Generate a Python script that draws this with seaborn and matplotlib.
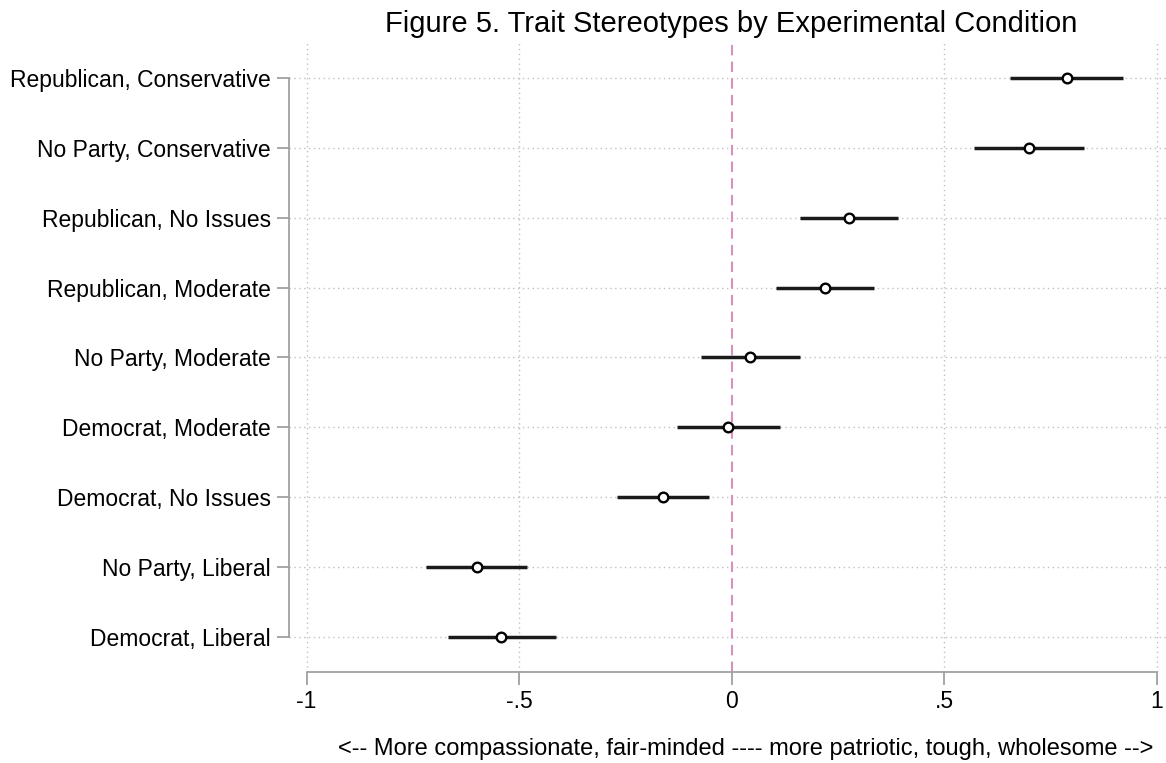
import numpy as np
import pandas as pd
import seaborn as sns
import matplotlib.pyplot as plt

# Kosullar (yukaridan asagi)
conditions = ['Republican, Conservative', 'No Party, Conservative', 'Republican, No Issues',
              'Republican, Moderate', 'No Party, Moderate', 'Democrat, Moderate',
              'Democrat, No Issues', 'No Party, Liberal', 'Democrat, Liberal']
estimate = [0.788, 0.699, 0.276, 0.220, 0.044, -0.009, -0.162, -0.600, -0.542]
ci_low = [0.655, 0.571, 0.160, 0.105, -0.071, -0.129, -0.270, -0.718, -0.667]
ci_high = [0.921, 0.830, 0.391, 0.336, 0.160, 0.113, -0.053, -0.482, -0.414]

x_ticks = [-1, -0.5, 0, 0.5, 1]
x_tick_labels = ['-1', '-.5', '0', '.5', '1']

df = pd.DataFrame({'condition': conditions, 'estimate': estimate,
                   'low': ci_low, 'high': ci_high})
df['pos'] = np.arange(len(df))

sns.set_style('white')
plt.rcParams['font.family'] = ['Liberation Sans', 'DejaVu Sans']
plt.rcParams['text.color'] = 'black'
plt.rcParams['axes.labelcolor'] = 'black'
plt.rcParams['xtick.labelcolor'] = 'black'
plt.rcParams['ytick.labelcolor'] = 'black'

fig = plt.figure(figsize=(11.66, 7.63), dpi=100)
ax = fig.add_axes([0.248, 0.119, 0.752, 0.825])

# Izgara cizgileri
for t in x_ticks:
    if t != 0:
        ax.axvline(t, color='#c0c0c0', linestyle=(0, (1, 2.5)), linewidth=1, zorder=0)
for p in df['pos']:
    ax.axhline(p, color='#c0c0c0', linestyle=(0, (1, 2.5)), linewidth=1, zorder=0)

# Sifir cizgisi
ax.axvline(0, color='#d98fc0', linestyle=(0, (5, 3)), linewidth=1.5, zorder=1)

# Guven araliklari ve noktalar
ax.hlines(df['pos'], df['low'], df['high'], color='#1a1a1a', linewidth=2.5, zorder=2)
sns.scatterplot(data=df, x='estimate', y='pos', ax=ax, marker='o', s=48,
                facecolor='white', edgecolor='black', linewidth=1.7, zorder=3, legend=False)

ax.set_xlim(-1.041, 1.022)
ax.set_ylim(8.5, -0.5)
ax.set_xticks(x_ticks)
ax.set_xticklabels(x_tick_labels, fontsize=16.5)
ax.set_yticks(df['pos'])
ax.set_yticklabels(df['condition'], fontsize=16.5)

for side in ['top', 'right']:
    ax.spines[side].set_visible(False)
ax.spines['left'].set_bounds(0, 8)
ax.spines['bottom'].set_bounds(-1, 1)
ax.spines['left'].set_color('#a0a0a0')
ax.spines['bottom'].set_color('#a0a0a0')
ax.spines['left'].set_linewidth(1.3)
ax.spines['bottom'].set_linewidth(1.3)
ax.tick_params(axis='both', which='both', direction='out', color='#a0a0a0',
               width=1.3, length=9, pad=4, left=True, bottom=True)

ax.set_xlabel('<-- More compassionate, fair-minded ---- more patriotic, tough, wholesome -->',
              fontsize=17, labelpad=18, x=0.521)
ax.set_ylabel('')
ax.set_title('Figure 5. Trait Stereotypes by Experimental Condition', fontsize=21, pad=8,
             x=0.504)

plt.savefig('out.png', dpi=100)
